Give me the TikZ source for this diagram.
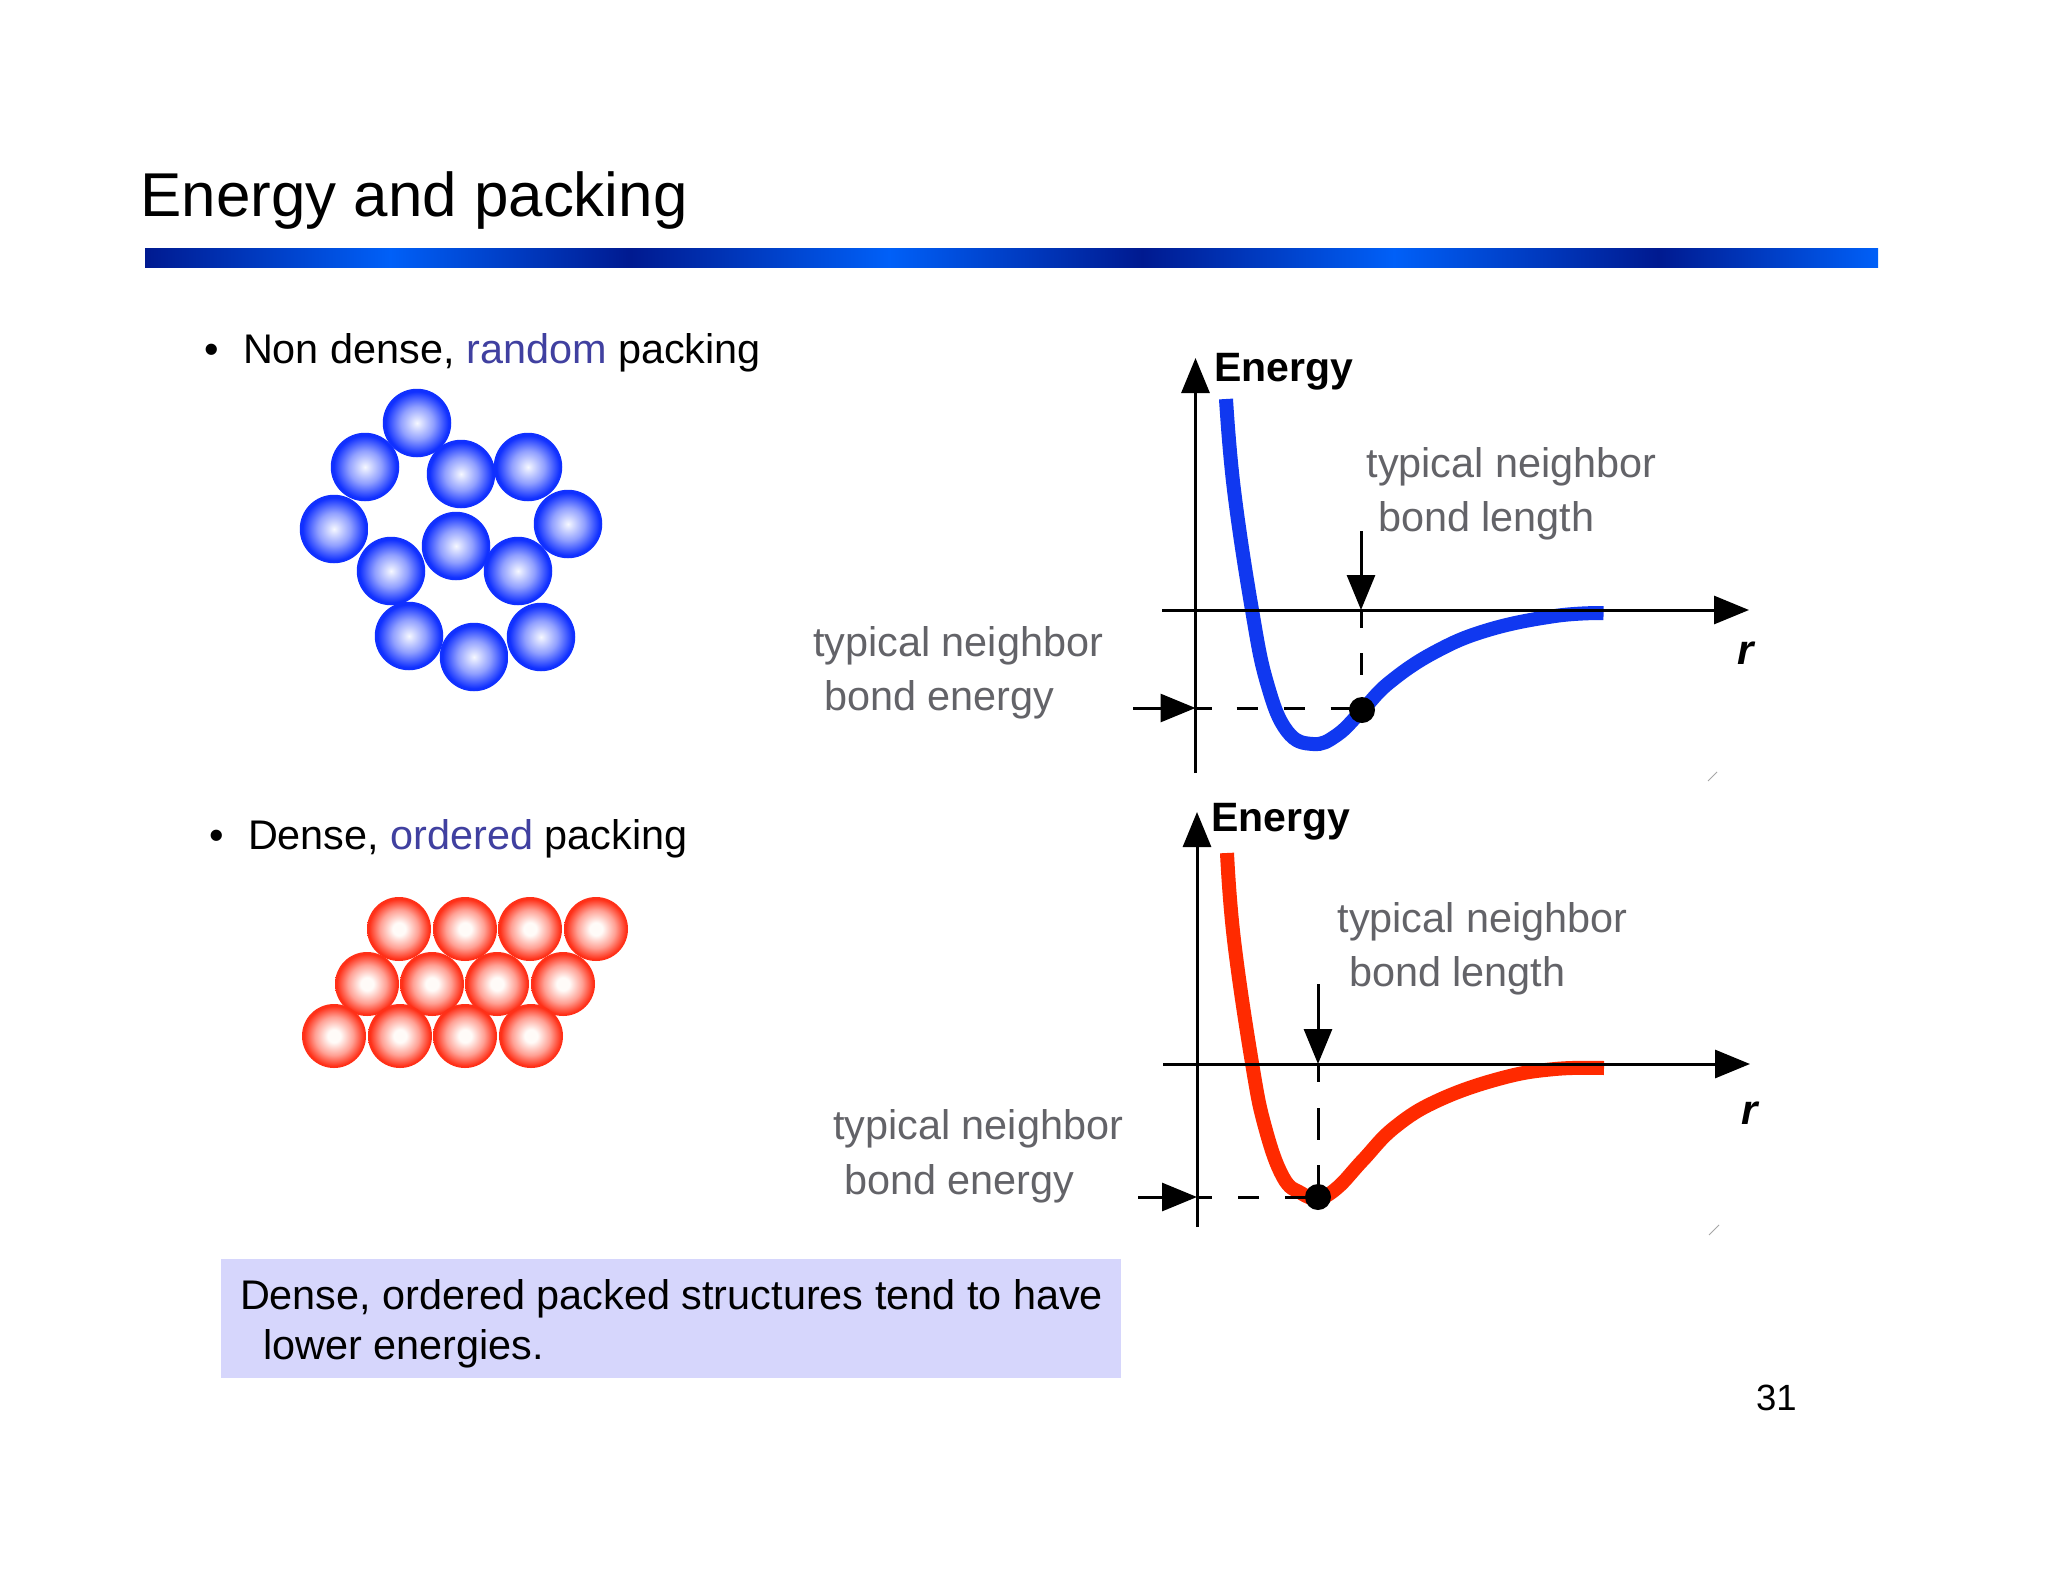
\documentclass[tikz,border=0pt]{standalone}
\usepackage{fontspec}
\setmainfont{Liberation Sans}
\usetikzlibrary{arrows.meta}
\definecolor{bluecurve}{HTML}{1038F0}
\definecolor{redcurve}{HTML}{FF2A00}
\definecolor{graytext}{HTML}{636368}
\definecolor{bluetext}{HTML}{4040A0}
\definecolor{boxfill}{HTML}{D6D6FC}
\definecolor{bardark}{HTML}{001A90}
\definecolor{barlight}{HTML}{0060F8}
\definecolor{bcen}{HTML}{F6F8FF}
\definecolor{bmid}{HTML}{909FFF}
\definecolor{bedge}{HTML}{1030FF}
\definecolor{rcen}{HTML}{FFFBF8}
\definecolor{rmid}{HTML}{FFA094}
\definecolor{redge}{HTML}{FF3018}
\pgfdeclareradialshading{bluesphere}{\pgfpointorigin}{color(0bp)=(bcen); color(12bp)=(bmid); color(23bp)=(bedge); color(50bp)=(bedge)}
\pgfdeclareradialshading{redsphere}{\pgfpointorigin}{color(0bp)=(rcen); color(5bp)=(rcen); color(15bp)=(rmid); color(23.5bp)=(redge); color(50bp)=(redge)}
\tikzset{
  x=1pt,y=-1pt,
  bball/.style={circle,inner sep=0pt,minimum size=68.5pt,shading=bluesphere},
  rball/.style={circle,inner sep=0pt,minimum size=64pt,shading=redsphere},
  txt/.style={anchor=base west,inner sep=0pt,outer sep=0pt,font=\fontsize{41.4}{48}\selectfont},
  graylabel/.style={txt,text=graytext},
  energylabel/.style={txt,font=\fontsize{41}{48}\selectfont\bfseries},
  rlabel/.style={anchor=base,inner sep=0pt,font=\fontsize{42}{48}\selectfont\bfseries\itshape},
  axisline/.style={line width=3pt,-{Triangle[length=35pt,width=28pt]}},
  dashline/.style={line width=3pt},
  curve/.style={line width=14pt},
  bdot/.style={circle,fill=black,inner sep=0pt,minimum size=26pt},
  stray/.style={line width=0.8pt,draw=black!35},
}
\begin{document}
\begin{tikzpicture}
\useasboundingbox (0,0) rectangle (2048,1582);
\fill[white] (0,0) rectangle (2048,1582);
% title and bar
\node[txt,font=\fontsize{61.9}{70}\selectfont] (title) at (140.5,216) {Energy and packing};
\shade[left color=bardark,right color=barlight] (145,248) rectangle (390,267);
\shade[left color=barlight,right color=bardark] (390,248) rectangle (631,267);
\shade[left color=bardark,right color=barlight] (631,248) rectangle (889,267);
\shade[left color=barlight,right color=bardark] (889,248) rectangle (1142,267);
\shade[left color=bardark,right color=barlight] (1142,248) rectangle (1394,267);
\shade[left color=barlight,right color=bardark] (1394,248) rectangle (1658,267);
\shade[left color=bardark,right color=barlight] (1658,248) rectangle (1878,267);
% bullets
\node[txt] (bul1) at (204.5,363) {•};
\node[txt] (t1) at (243,363) {Non dense, \textcolor{bluetext}{random} packing};
\node[txt] (bul2) at (209.5,849) {•};
\node[txt] (t2) at (248,849) {Dense, \textcolor{bluetext}{ordered} packing};
% blue balls
\foreach \n/\p in {1/{417,423},2/{365,467},3/{461,474},4/{528,467},5/{334,529},6/{568,524},7/{456,546},8/{391,571},9/{518,571},10/{409,636},11/{474,657},12/{541,637}}
  \node[bball] (b\n) at (\p) {};
% red balls
\foreach \n/\p in {1/{399,929},2/{465,929},3/{530,929},4/{596,929},5/{367,984},6/{432,984},7/{497,984},8/{563,984},9/{334,1036},10/{400,1036},11/{465,1036},12/{531,1036}}
  \node[rball] (r\n) at (\p) {};
% ---- graph 1
\coordinate (Aybot) at (1195.5,773); \coordinate (Aytop) at (1195.5,358);
\coordinate (Axl) at (1162,610); \coordinate (Axr) at (1749,610);
\draw[bluecurve,curve] plot[smooth,tension=0.7] coordinates {(1226,399) (1234,490) (1252,610) (1267,683) (1287,731) (1313,744) (1337,735) (1362.5,710) (1390,682) (1435,652) (1488,630) (1555,616) (1603.5,613)};
\draw[axisline] (Aybot) -- (Aytop);
\draw[axisline] (Axl) -- (Axr);
\node[bdot] (Adot) at (1362,710) {};
\coordinate (Adn) at (1361,531); \coordinate (Adt) at (1361,610);
\draw[axisline] (Adn) -- (Adt);
\coordinate (Ahl) at (1133,708); \coordinate (Aht) at (1195.5,708);
\draw[axisline] (Ahl) -- (Aht);
\draw[dashline,dash pattern=on 18pt off 25pt on 22pt off 100pt] (Adt) -- (1361,700);
\draw[dashline,dash pattern=on 16pt off 25pt on 21pt off 26pt on 21pt off 26pt on 20pt off 30pt] (Aht) -- (1355,708);
\node[energylabel] (Aen) at (1214.5,381.5) {Energy};
\node[graylabel] (Al1) at (1366.5,477) {typical neighbor};
\node[graylabel] (Al2) at (1378,531.5) {bond length};
\node[graylabel] (Ae1) at (813,656) {typical neighbor};
\node[graylabel] (Ae2) at (824,710) {bond energy};
\node[rlabel] (Ar) at (1746,664) {r};
\coordinate (As1) at (1708,781); \coordinate (As2) at (1717,772);
\draw[stray] (As1) -- (As2);
% ---- graph 2
\coordinate (Bybot) at (1197,1227); \coordinate (Bytop) at (1197,812);
\coordinate (Bxl) at (1163,1064); \coordinate (Bxr) at (1750,1064);
\draw[redcurve,curve] plot[smooth,tension=0.7] coordinates {(1227,853) (1234,940) (1252,1063) (1265,1127) (1283,1177) (1301,1193) (1318,1198) (1337,1188) (1363,1160) (1395,1127) (1439,1100) (1502,1078) (1555,1069) (1604,1068)};
\draw[axisline] (Bybot) -- (Bytop);
\draw[axisline] (Bxl) -- (Bxr);
\node[bdot] (Bdot) at (1318,1197) {};
\coordinate (Bdn) at (1318,984); \coordinate (Bdt) at (1318,1064);
\draw[axisline] (Bdn) -- (Bdt);
\coordinate (Bhl) at (1138,1197); \coordinate (Bht) at (1197,1197);
\draw[axisline] (Bhl) -- (Bht);
\draw[dashline,dash pattern=on 18pt off 26pt on 32pt off 25pt on 32pt off 100pt] (Bdt) -- (1318,1190);
\draw[dashline,dash pattern=on 15pt off 26pt on 21pt off 26pt on 21pt off 100pt] (Bht) -- (1310,1197);
\node[energylabel] (Ben) at (1211,831) {Energy};
\node[graylabel] (Bl1) at (1337.5,932) {typical neighbor};
\node[graylabel] (Bl2) at (1349,986.5) {bond length};
\node[graylabel] (Be1) at (833,1139) {typical neighbor};
\node[graylabel] (Be2) at (844,1194) {bond energy};
\node[rlabel] (Br) at (1750,1124) {r};
\coordinate (Bs1) at (1709,1235); \coordinate (Bs2) at (1719,1225);
\draw[stray] (Bs1) -- (Bs2);
% ---- box
\fill[boxfill] (221,1259) rectangle (1121,1378);
\node[txt] (c1) at (240,1309) {Dense, ordered packed structures tend to have};
\node[txt] (c2) at (263,1359) {lower energies.};
\node[txt,font=\fontsize{36.5}{44}\selectfont] (num) at (1756,1410) {31};
\end{tikzpicture}
\end{document}
